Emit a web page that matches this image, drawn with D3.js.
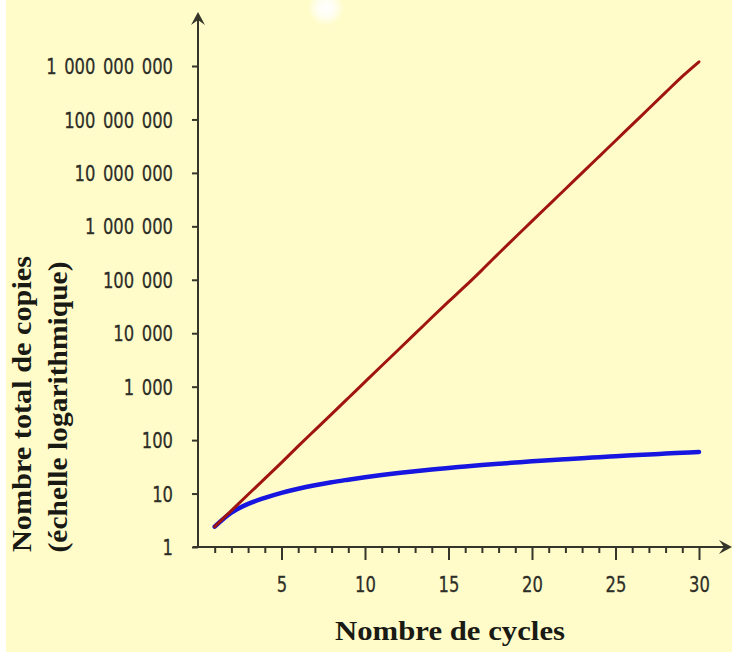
<!DOCTYPE html>
<html>
<head>
<meta charset="utf-8">
<script src="https://cdn.jsdelivr.net/npm/d3@7"></script>
<style>
  body { margin: 0; background: #ffffff; }
  svg { display: block; }
</style>
</head>
<body>
<div id="chart"></div>
<script>
// data
const cycles = [1,2,3,4,5,6,7,8,9,10,11,12,13,14,15,16,17,18,19,20,21,22,23,24,25,26,27,28,29,30];
const exponential = [2.4, 4.8, 9.6, 19, 38, 77, 154, 307, 614, 1230, 2460, 4900, 9800, 19700, 39000,
  76000, 152000, 310000, 625000, 1250000, 2500000, 5000000, 10000000, 20000000, 40000000,
  80000000, 160000000, 320000000, 640000000, 1200000000];
const linear = [2.4, 4.4, 6.4, 8.3, 10.3, 12.3, 14.3, 16.3, 18.2, 20.2, 22.2, 24.2, 26.2, 28.2, 30.2,
  32.1, 34.1, 36.1, 38.1, 40.1, 42, 44, 46, 48, 50, 52, 54, 56, 58, 60];
const yTicks = [1, 10, 100, 1000, 10000, 100000, 1000000, 10000000, 100000000, 1000000000];
const xMajor = [5, 10, 15, 20, 25, 30];
const xTitle = "Nombre de cycles";
const yTitle = ["Nombre total de copies", "(échelle logarithmique)"];

const W = 732, H = 653;
const axisColor = "#35352a";
const sx = 0.78; // horizontal squeeze of the tick labels

const svg = d3.select("#chart").append("svg")
    .attr("width", W)
    .attr("height", H);

// yellow background
svg.append("rect")
    .attr("x", 6).attr("y", 0)
    .attr("width", W - 6).attr("height", H - 1)
    .attr("fill", "#fffcca");

// soft white glow at top
const defs = svg.append("defs");
const glow = defs.append("radialGradient").attr("id", "glow");
glow.append("stop").attr("offset", "0%").attr("stop-color", "#ffffff").attr("stop-opacity", 1);
glow.append("stop").attr("offset", "45%").attr("stop-color", "#ffffff").attr("stop-opacity", 0.8);
glow.append("stop").attr("offset", "100%").attr("stop-color", "#ffffff").attr("stop-opacity", 0);
svg.append("circle").attr("cx", 326).attr("cy", 8).attr("r", 18).attr("fill", "url(#glow)");

// scales
const x = d3.scaleLinear().domain([0, 30]).range([198, 699]);
const y = d3.scaleLog().domain([1, 1e9]).range([547, 66]);

const fmt = v => d3.format(",")(v).replace(/,/g, " ");

// y axis ticks
const yAxis = svg.append("g")
    .attr("transform", `translate(${x(0)},0)`)
    .call(d3.axisLeft(y).tickValues(yTicks).tickFormat(fmt).tickSize(6).tickPadding(0));
yAxis.select(".domain").remove();
yAxis.selectAll(".tick line").attr("stroke", axisColor).attr("stroke-width", 2);
yAxis.selectAll(".tick text")
    .attr("x", -25 / sx)
    .attr("dy", "0.36em")
    .attr("transform", `scale(${sx},1)`)
    .attr("fill", "#2e2e28")
    .attr("stroke", "#2e2e28")
    .attr("stroke-width", 0.3)
    .style("font-family", "'DejaVu Sans', sans-serif")
    .style("font-size", "21px")
    .style("word-spacing", "3px");

// x axis minor ticks
const xMinor = svg.append("g")
    .attr("transform", `translate(0,${y(1)})`)
    .call(d3.axisBottom(x).tickValues(cycles.filter(c => xMajor.indexOf(c) < 0)).tickFormat("").tickSize(6));
xMinor.select(".domain").remove();
xMinor.selectAll(".tick line").attr("stroke", axisColor).attr("stroke-width", 2);

// x axis major ticks
const xAxis = svg.append("g")
    .attr("transform", `translate(0,${y(1)})`)
    .call(d3.axisBottom(x).tickValues(xMajor).tickFormat(d3.format("d")).tickSize(13).tickPadding(0));
xAxis.select(".domain").remove();
xAxis.selectAll(".tick line").attr("stroke", axisColor).attr("stroke-width", 2);
xAxis.selectAll(".tick text")
    .attr("y", 45)
    .attr("dy", 0)
    .attr("transform", `scale(${sx},1)`)
    .attr("fill", "#2e2e28")
    .attr("stroke", "#2e2e28")
    .attr("stroke-width", 0.3)
    .style("font-family", "'DejaVu Sans', sans-serif")
    .style("font-size", "21px");

// axis lines with arrows
svg.append("line")
    .attr("x1", x(0)).attr("y1", y(1) + 1)
    .attr("x2", x(0)).attr("y2", 16)
    .attr("stroke", axisColor).attr("stroke-width", 2);
svg.append("path")
    .attr("d", `M${x(0)},12 L${x(0) - 7},25 L${x(0)},20 L${x(0) + 7},25 Z`)
    .attr("fill", axisColor);
svg.append("line")
    .attr("x1", x(0) - 5).attr("y1", y(1))
    .attr("x2", 727).attr("y2", y(1))
    .attr("stroke", axisColor).attr("stroke-width", 2);
svg.append("path")
    .attr("d", `M732,${y(1)} L719,${y(1) - 7} L724,${y(1)} L719,${y(1) + 7} Z`)
    .attr("fill", axisColor);

// curves
const line = d3.line()
    .x((d, i) => x(cycles[i]))
    .y(d => y(d))
    .curve(d3.curveCatmullRom);

svg.append("path")
    .datum(linear)
    .attr("d", line)
    .attr("fill", "none")
    .attr("stroke", "#1616e0")
    .attr("stroke-width", 4.5)
    .attr("stroke-linecap", "round");

svg.append("path")
    .datum(exponential)
    .attr("d", line)
    .attr("fill", "none")
    .attr("stroke", "#a0160e")
    .attr("stroke-width", 3)
    .attr("stroke-linecap", "round");

// axis titles
svg.append("text")
    .attr("x", 450)
    .attr("y", 640)
    .attr("text-anchor", "middle")
    .attr("textLength", 230)
    .attr("lengthAdjust", "spacingAndGlyphs")
    .style("font-family", "'Liberation Serif', serif")
    .style("font-weight", "bold")
    .style("font-size", "27px")
    .attr("fill", "#1a1a14")
    .text(xTitle);

svg.append("text")
    .attr("transform", "translate(31,404) rotate(-90)")
    .attr("text-anchor", "middle")
    .attr("textLength", 296)
    .attr("lengthAdjust", "spacingAndGlyphs")
    .style("font-family", "'Liberation Serif', serif")
    .style("font-weight", "bold")
    .style("font-size", "27px")
    .attr("fill", "#1a1a14")
    .text(yTitle[0]);

svg.append("text")
    .attr("transform", "translate(67,407) rotate(-90)")
    .attr("text-anchor", "middle")
    .attr("textLength", 291)
    .attr("lengthAdjust", "spacingAndGlyphs")
    .style("font-family", "'Liberation Serif', serif")
    .style("font-weight", "bold")
    .style("font-size", "27px")
    .attr("fill", "#1a1a14")
    .text(yTitle[1]);
</script>
</body>
</html>
